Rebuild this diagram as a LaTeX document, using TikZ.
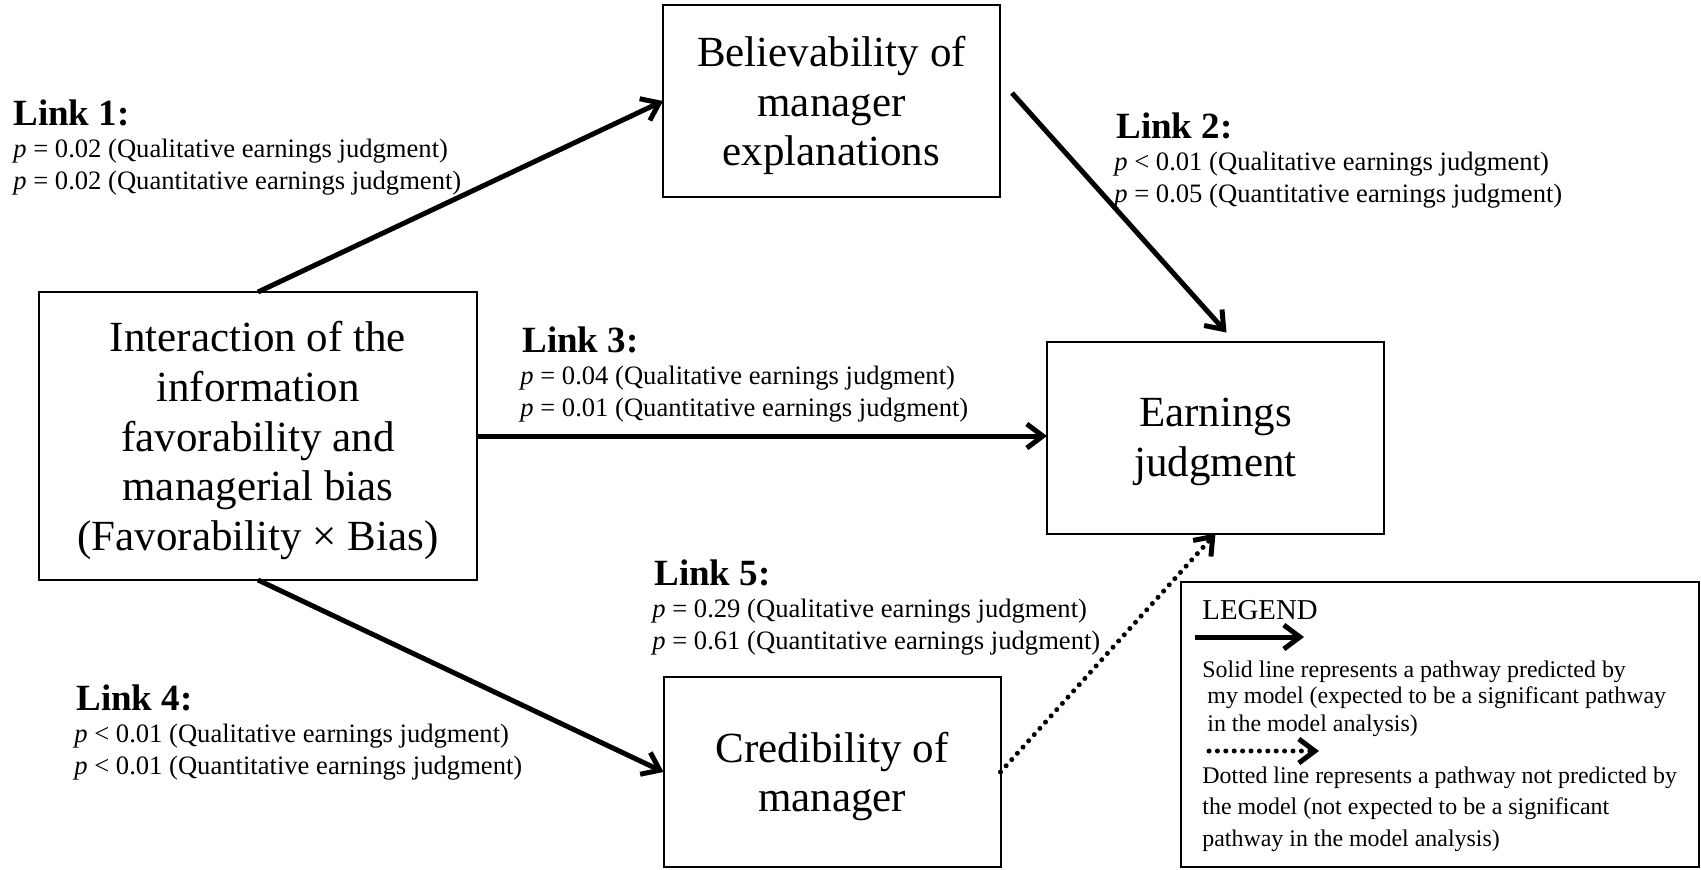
\documentclass[tikz,border=0pt]{standalone}
\usepackage{fontspec}
\setmainfont{Liberation Serif}
\usetikzlibrary{arrows.meta}

\begin{document}
\begin{tikzpicture}[x=0.5pt,y=0.5pt,
    box/.style={draw, line width=1pt, inner sep=0pt, outer sep=0pt, minimum width=168.5pt, minimum height=96pt, align=center, font=\fontsize{21.5}{24.8}\selectfont, text depth=-0.8pt},
    linktitle/.style={anchor=base west, inner sep=0pt, font=\fontsize{18.5}{21}\selectfont\bfseries},
    pval/.style={anchor=base west, inner sep=0pt, font=\fontsize{13.3}{16}\selectfont},
    legtext/.style={anchor=base west, inner sep=0pt, font=\fontsize{11.95}{14}\selectfont},
    solidlink/.style={line width=2.5pt, -{Straight Barb[length=8pt,width=12pt]}},
    dottedlink/.style={line width=2.5pt, line cap=round, dash pattern=on 0pt off 4.2pt, -{Straight Barb[length=8pt,width=12pt,line cap=butt]}}]
    \useasboundingbox (0,0) rectangle (1701,-869);
    \node[box] (bel) at (831.5,-101) {Believability of\\manager\\explanations};
    \node[box, minimum width=219pt, minimum height=144pt] (inter) at (258,-436) {Interaction of the\\information\\favorability and\\managerial bias\\(Favorability × Bias)};
    \node[box] (earn) at (1215.5,-437.5) {Earnings\\judgment};
    \node[box, minimum height=95pt] (cred) at (832,-772) {Credibility of\\manager};
    \node[draw, line width=1pt, inner sep=0pt, outer sep=0pt, minimum width=259pt, minimum height=142.5pt] (legend) at (1440,-724.5) {};
    \draw[solidlink] (inter.north) -- (bel.west);
    \draw[solidlink] ([shift={(12,8)}]bel.east) -- ([shift={(11,9)}]earn.north);
    \draw[solidlink] (inter.east) -- (inter.east -| earn.west);
    \draw[solidlink] (inter.south) -- (cred.west);
    \draw[dottedlink] (cred.east) -- (earn.south);
    \node[linktitle] (l1) at (13,-125) {Link 1:};
    \node[pval] (l1a) at (13,-157) {\textit{p} = 0.02 (Qualitative earnings judgment)};
    \node[pval] (l1b) at (13,-189) {\textit{p} = 0.02 (Quantitative earnings judgment)};
    \node[linktitle] (l2) at (1116,-138) {Link 2:};
    \node[pval] (l2a) at (1114,-170) {\textit{p} < 0.01 (Qualitative earnings judgment)};
    \node[pval] (l2b) at (1114,-202) {\textit{p} = 0.05 (Quantitative earnings judgment)};
    \node[linktitle] (l3) at (522,-352) {Link 3:};
    \node[pval] (l3a) at (520,-384) {\textit{p} = 0.04 (Qualitative earnings judgment)};
    \node[pval] (l3b) at (520,-416) {\textit{p} = 0.01 (Quantitative earnings judgment)};
    \node[linktitle] (l4) at (76,-710) {Link 4:};
    \node[pval] (l4a) at (74,-742) {\textit{p} < 0.01 (Qualitative earnings judgment)};
    \node[pval] (l4b) at (74,-774) {\textit{p} < 0.01 (Quantitative earnings judgment)};
    \node[linktitle] (l5) at (654,-585) {Link 5:};
    \node[pval] (l5a) at (652,-617) {\textit{p} = 0.29 (Qualitative earnings judgment)};
    \node[pval] (l5b) at (652,-649) {\textit{p} = 0.61 (Quantitative earnings judgment)};
    \node[legtext, font=\fontsize{14.4}{16}\selectfont] (legtitle) at (1202,-619) {LEGEND};
    \coordinate (sa) at (1195,-637);
    \coordinate (sb) at (1304,-637);
    \draw[solidlink] (sa) -- (sb);
    \node[legtext] (leg1) at (1202,-677) {Solid line represents a pathway predicted by};
    \node[legtext] (leg2) at (1207,-703) {my model (expected to be a significant pathway};
    \node[legtext] (leg3) at (1207,-731) {in the model analysis)};
    \coordinate (da) at (1209,-751);
    \coordinate (db) at (1319,-751);
    \draw[dottedlink] (da) -- (db);
    \node[legtext] (leg4) at (1202,-783) {Dotted line represents a pathway not predicted by};
    \node[legtext] (leg5) at (1202,-814) {the model (not expected to be a significant};
    \node[legtext] (leg6) at (1202,-846) {pathway in the model analysis)};
\end{tikzpicture}
\end{document}
